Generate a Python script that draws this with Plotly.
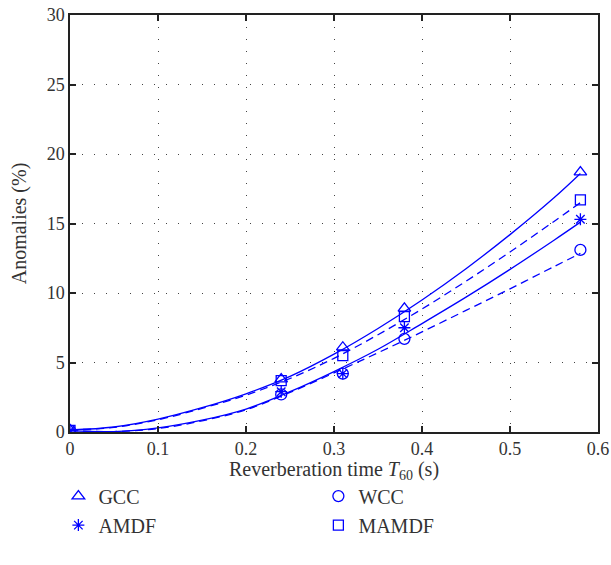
import plotly.graph_objects as go

# Measured points
t60 = [0.0, 0.24, 0.31, 0.38, 0.58]
gcc = [0.15, 3.8, 6.1, 8.9, 18.7]
wcc = [0.1, 2.7, 4.2, 6.7, 13.1]
amdf = [0.1, 2.9, 4.2, 7.5, 15.3]
mamdf = [0.12, 3.7, 5.5, 8.3, 16.7]

# Trend curves
t_fit = [0.0, 0.05, 0.1, 0.15, 0.2, 0.25, 0.3, 0.35, 0.4, 0.45, 0.5, 0.55, 0.58]
gcc_fit = [0.15, 0.36, 0.93, 1.75, 2.75, 4.0, 5.6, 7.45, 9.5, 11.75, 14.2, 16.85, 18.6]
mamdf_fit = [0.15, 0.33, 0.88, 1.7, 2.65, 3.85, 5.3, 7.0, 8.85, 10.85, 12.95, 15.15, 16.5]
amdf_fit = [0.1, 0.03, 0.3, 0.85, 1.65, 2.9, 4.35, 5.95, 7.8, 9.7, 11.7, 13.8, 15.1]
wcc_fit = [0.1, 0.03, 0.25, 0.8, 1.6, 2.85, 4.25, 5.7, 7.2, 8.75, 10.3, 11.9, 12.85]

x_ticks = [0, 0.1, 0.2, 0.3, 0.4, 0.5, 0.6]
x_ticklabels = ["0", "0.1", "0.2", "0.3", "0.4", "0.5", "0.6"]
y_ticks = [0, 5, 10, 15, 20, 25, 30]
x_title = "Reverberation time <i>T</i><sub>60</sub> (s)"
y_title = "Anomalies (%)"

BLUE = "#0000ff"
FONT = "Liberation Serif"
TXT = "#333333"
FS = 20
FT = 18

fig = go.Figure()

for yv, dash in [(gcc_fit, "solid"), (mamdf_fit, "8px,5px"),
                 (amdf_fit, "solid"), (wcc_fit, "8px,5px")]:
    fig.add_trace(go.Scatter(x=t_fit, y=yv, mode="lines",
                             line=dict(color=BLUE, width=1.3, dash=dash,
                                       shape="spline", smoothing=1.0),
                             showlegend=False, hoverinfo="skip"))

series = [("GCC", gcc, "triangle-up-open", 11),
          ("WCC", wcc, "circle-open", 11),
          ("AMDF", amdf, "asterisk-open", 10),
          ("MAMDF", mamdf, "square-open", 10)]
for name, yv, sym, sz in series:
    fig.add_trace(go.Scatter(x=t60, y=yv, mode="markers", name=name,
                             marker=dict(symbol=sym, size=sz, color=BLUE,
                                         line=dict(color=BLUE, width=1.3))))

axis_common = dict(showline=True, linecolor="#222222", linewidth=1.5, mirror="ticks",
                   ticks="inside", ticklen=6, tickcolor="#222222", tickwidth=1.5,
                   showgrid=True, gridcolor="#444444", gridwidth=1, griddash="1px,11px",
                   zeroline=False, automargin=False,
                   tickfont=dict(family=FONT, size=FT, color=TXT))

fig.update_xaxes(range=[0, 0.6], tickvals=x_ticks, ticktext=x_ticklabels, **axis_common)
fig.update_yaxes(range=[0, 30], tickvals=y_ticks,
                 title=dict(text=y_title,
                            font=dict(family=FONT, size=FS, color=TXT), standoff=15),
                 **axis_common)

fig.add_annotation(text=x_title, xref="paper", yref="paper", x=0.5, y=-0.092,
                   xanchor="center", yanchor="middle", showarrow=False,
                   font=dict(family=FONT, size=FS, color=TXT))

fig.update_layout(
    width=611, height=565,
    margin=dict(l=70, r=13, t=15, b=133),
    plot_bgcolor="white", paper_bgcolor="white",
    legend=dict(orientation="h", x=-0.022, xanchor="left", y=-0.107, yanchor="top",
                entrywidth=215, entrywidthmode="pixels",
                font=dict(family=FONT, size=FS, color=TXT),
                bgcolor="rgba(0,0,0,0)"),
)

fig.write_html("out.html")
